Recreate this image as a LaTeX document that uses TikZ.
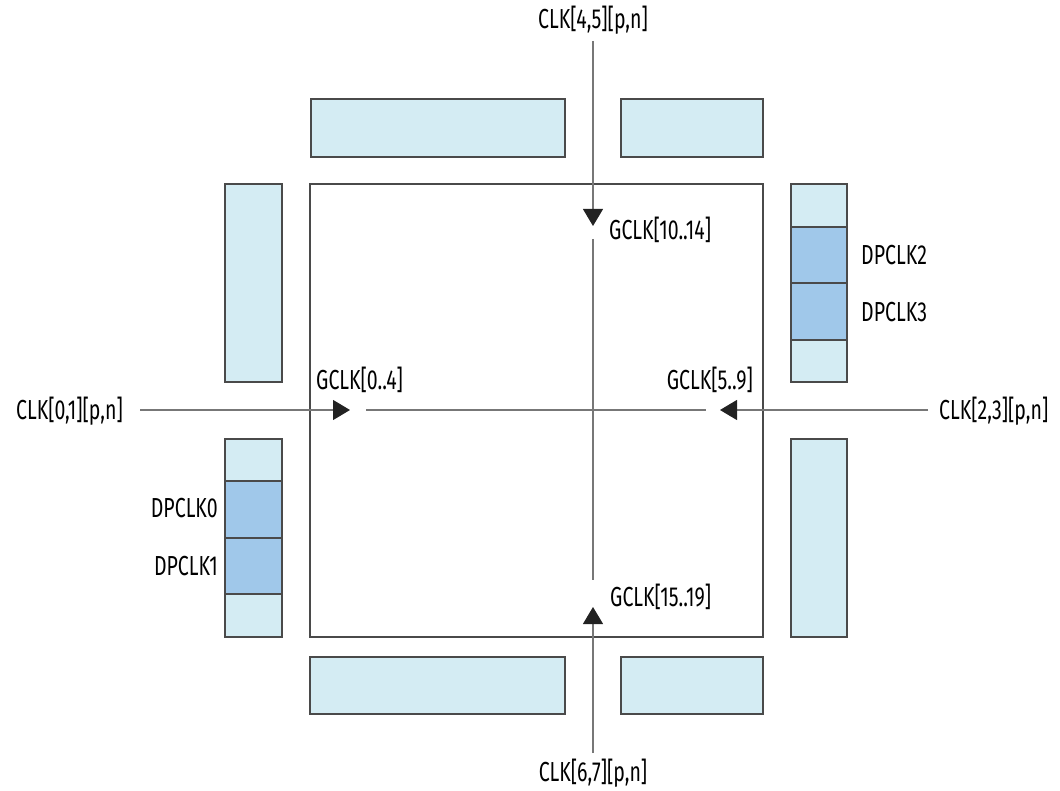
\documentclass[tikz,border=0pt]{standalone}
\usepackage{fontspec}
\setmainfont[FakeStretch=0.71]{Fira Sans}
\usetikzlibrary{arrows.meta}
\definecolor{lightblk}{HTML}{D4ECF3}
\definecolor{darkblk}{HTML}{A0C8EA}
\definecolor{edgegray}{HTML}{4A4A4A}
\definecolor{wiregray}{HTML}{777777}
\definecolor{tipgray}{HTML}{222222}
\tikzset{
  iobank/.style={draw=edgegray,line width=1.1pt,fill=lightblk},
  dpbank/.style={draw=edgegray,line width=1.1pt,fill=darkblk},
  corebox/.style={draw=edgegray,line width=1.2pt},
  wire/.style={draw=wiregray,line width=1.1pt},
  clkarrow/.style={wire,-{Triangle[length=17pt,width=20pt,color=tipgray]}},
  lbl/.style={inner sep=0pt,font=\fontsize{27.5}{30}\selectfont,text=black}
}
\begin{document}
\begin{tikzpicture}[x=1pt,y=-1pt]
\useasboundingbox (0,0) rectangle (1060,791);
% core
\draw[corebox] (310,184) rectangle (763,637);
% top banks
\draw[iobank] (311,99) rectangle (565,157);
\draw[iobank] (621,99) rectangle (763,157);
% bottom banks
\draw[iobank] (310,657) rectangle (565,714);
\draw[iobank] (621,657) rectangle (763,714);
% left banks
\draw[iobank] (225,184) rectangle (282,382);
\draw[iobank] (225,439) rectangle (282,637);
\draw[dpbank] (225,481) rectangle (282,538);
\draw[dpbank] (225,538) rectangle (282,594);
% right banks
\draw[iobank] (791,184) rectangle (847,382);
\draw[dpbank] (791,227) rectangle (847,283);
\draw[dpbank] (791,283) rectangle (847,340);
\draw[iobank] (791,439) rectangle (847,637);

% labels
\node[lbl] (clk45) at (593,20) {CLK[4,5][p,n]};
\node[lbl] (clk67) at (593,773) {CLK[6,7][p,n]};
\node[lbl,anchor=east] (clk01) at (123,411) {CLK[0,1][p,n]};
\node[lbl,anchor=west] (clk23) at (939,411) {CLK[2,3][p,n]};
\node[lbl,anchor=west] (g1014) at (609,230) {GCLK[10..14]};
\node[lbl,anchor=west] (g1519) at (610,597) {GCLK[15..19]};
\node[lbl,anchor=west] (g04) at (316,380) {GCLK[0..4]};
\node[lbl,anchor=east] (g59) at (753,380) {GCLK[5..9]};
\node[lbl,anchor=east] (dp0) at (218,508) {DPCLK0};
\node[lbl,anchor=east] (dp1) at (218,566) {DPCLK1};
\node[lbl,anchor=west] (dp2) at (861,255) {DPCLK2};
\node[lbl,anchor=west] (dp3) at (861,312) {DPCLK3};

% wire coordinates
\coordinate (topin) at (593,41);
\coordinate (toptip) at (593,226);
\coordinate (botin) at (593,753);
\coordinate (bottip) at (593,607);
\coordinate (leftin) at (140,410);
\coordinate (lefttip) at (350,410);
\coordinate (rightin) at (928,410);
\coordinate (righttip) at (720,410);
\coordinate (vtop) at (593,239);
\coordinate (vbot) at (593,580);
\coordinate (hleft) at (366,410);
\coordinate (hright) at (706,410);

% clock inputs
\draw[clkarrow] (topin) -- (toptip);
\draw[clkarrow] (botin) -- (bottip);
\draw[clkarrow] (leftin) -- (lefttip);
\draw[clkarrow] (rightin) -- (righttip);
% global clock spines
\draw[wire] (vtop) -- (vbot);
\draw[wire] (hleft) -- (hright);
\end{tikzpicture}
\end{document}
